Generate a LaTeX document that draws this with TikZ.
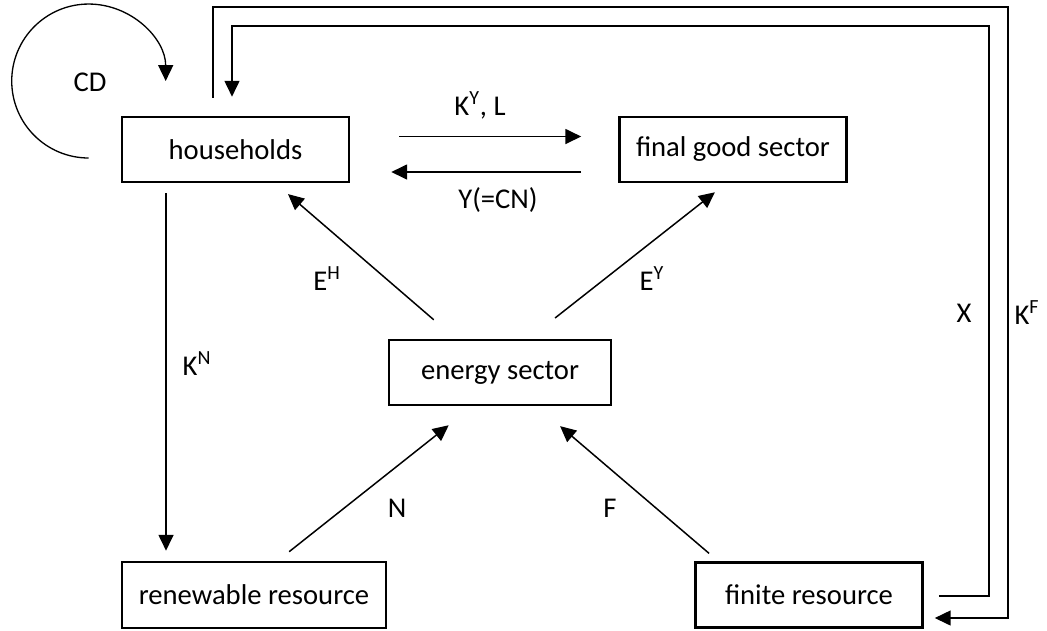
\documentclass[tikz,border=0pt]{standalone}
\usepackage{fontspec}
\setmainfont{Carlito}
\usetikzlibrary{arrows.meta}

\begin{document}
\begin{tikzpicture}[x=0.02cm, y=-0.02cm]
  \tikzstyle{sector} = [rectangle, draw, line width=1.5pt, minimum width=4.54cm, minimum height=1.3cm, font=\fontsize{16.3}{19}\selectfont]
  \tikzstyle{arrow} = [line width=0.85pt, -{Triangle[length=9pt, width=8.5pt]}]
  \tikzstyle{flow} = [font=\fontsize{16.3}{19}\selectfont]

  \useasboundingbox (0,0) rectangle (1047,630);

  % Sectors
  \node [sector] (hh) at (235.5,149.5) {households};
  \node [sector] (fg) at (733,149.5) {final good sector};
  \node [sector, minimum width=4.44cm] (es) at (500,372.5) {energy sector};
  \node [sector, minimum width=5.28cm, minimum height=1.32cm] (rr) at (254,595) {renewable resource};
  \node [sector] (fr) at (809,595) {finite resource};

  % Households and final good sector
  \draw [arrow, shorten <=0.98cm, shorten >=0.74cm] ([yshift=0.26cm]hh.east) -- ([yshift=0.26cm]fg.west);
  \draw [arrow, shorten <=0.74cm, shorten >=0.82cm] ([yshift=-0.45cm]fg.west) -- ([yshift=-0.45cm]hh.east);
  \node [flow] (lky) at (480,105) {K\textsuperscript{Y}, L};
  \node [flow] (lycn) at (498,200) {Y(=CN)};

  % Energy deliveries
  \draw [arrow, shorten <=0.58cm, shorten >=0.33cm] ([xshift=-0.886cm]es.north) -- ([xshift=0.8cm]hh.south);
  \draw [arrow, shorten <=0.67cm, shorten >=0.29cm] ([xshift=0.575cm]es.north) -- ([xshift=-0.135cm]fg.south);
  \node [flow] (leh) at (327,279) {E\textsuperscript{H}};
  \node [flow] (ley) at (652,279) {E\textsuperscript{Y}};

  % Resource inputs
  \draw [arrow, shorten <=0.29cm, shorten >=0.61cm] ([xshift=0.476cm]rr.north) -- ([xshift=-0.548cm]es.south);
  \draw [arrow, shorten <=0.24cm, shorten >=0.61cm] ([xshift=-1.816cm]fr.north) -- ([xshift=0.738cm]es.south);
  \node [flow] (ln) at (397,508) {N};
  \node [flow] (lf) at (610,508) {F};

  % Capital to renewable resource
  \draw [arrow, shorten <=0.2cm, shorten >=0.2cm] ([xshift=-1.39cm]hh.south) -- ([xshift=-1.39cm]hh.south |- rr.north);
  \node [flow] (lkn) at (197,364) {K\textsuperscript{N}};

  % Finite resource loop
  \coordinate (xc) at (989,26);
  \coordinate (kc) at (1008,7);
  \draw [arrow, line width=0.75pt, shorten <=0.3cm, shorten >=0.38cm] ([yshift=-0.02cm]fr.east) -| (xc) -| ([xshift=-0.07cm]hh.north);
  \draw [arrow, line width=0.75pt, shorten <=0.36cm, shorten >=0.22cm] ([xshift=-0.45cm]hh.north) |- (kc) |- ([yshift=-0.46cm]fr.east);
  \node [flow] (lx) at (964,313) {X};
  \node [flow] (lkf) at (1027,313) {K\textsuperscript{F}};

  % Consumption loop
  \draw [arrow, line width=0.75pt] ([xshift=-0.64cm, yshift=-0.17cm]hh.west) arc [start angle=270, end angle=0, radius=1.54cm];
  \node [flow] (lcd) at (90,82) {CD};
\end{tikzpicture}
\end{document}
